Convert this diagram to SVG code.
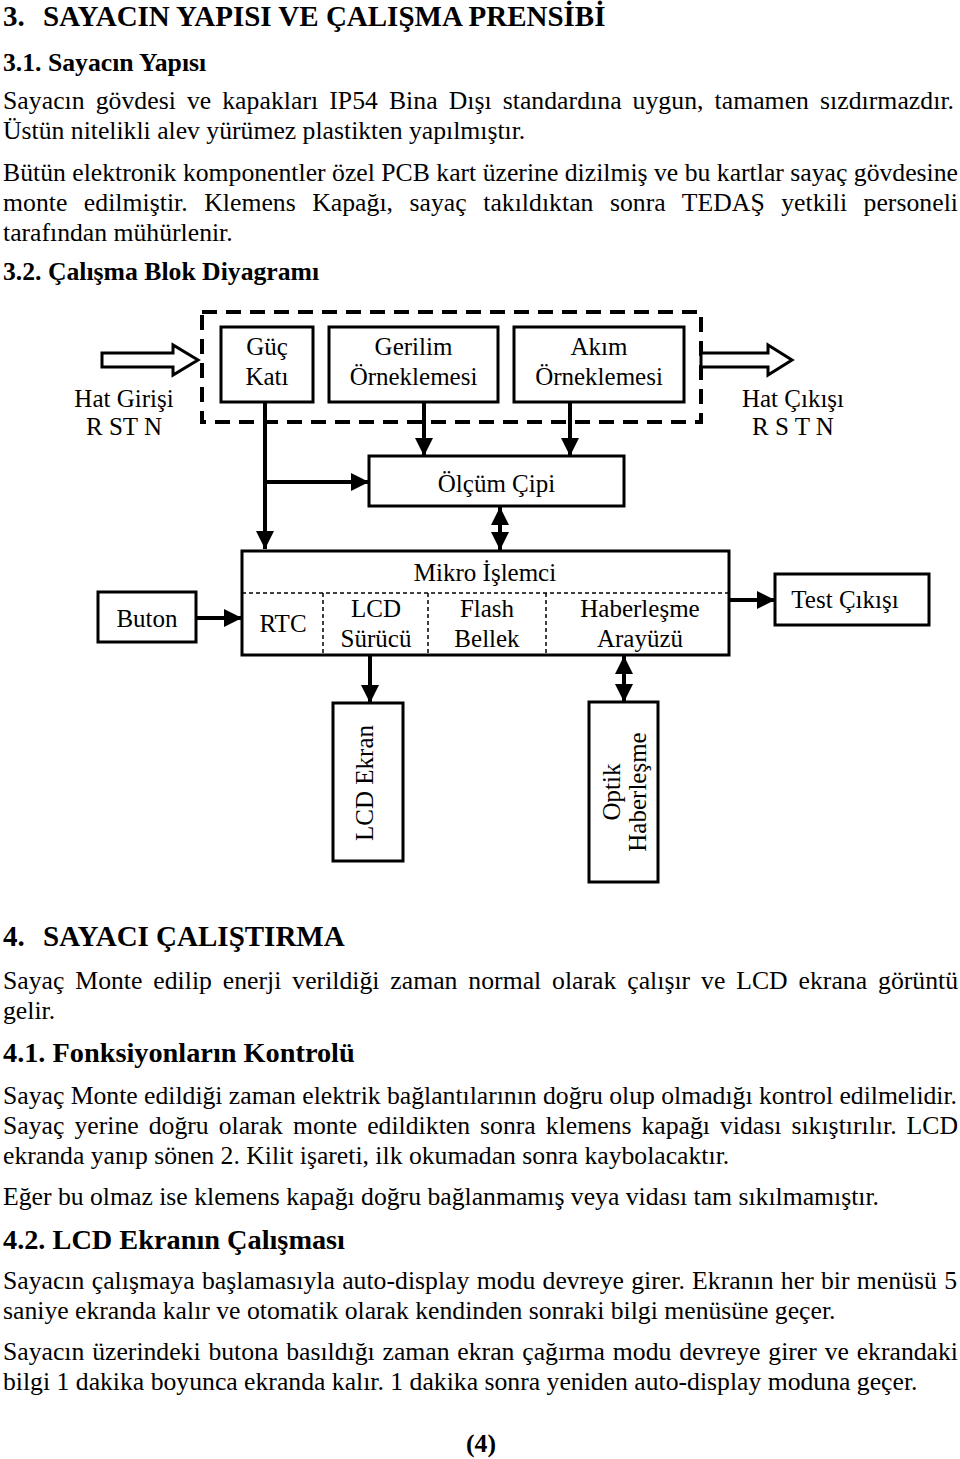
<svg xmlns="http://www.w3.org/2000/svg" width="960" height="1459" viewBox="0 0 960 1459">
<style>
text{font-family:"Liberation Serif","Times New Roman",serif;fill:#000}
.b{font-size:25.7px}
.h1{font-size:29px;font-weight:bold}
.h2{font-size:25.7px;font-weight:bold}
.h2b{font-size:28.3px;font-weight:bold}
.d{font-size:25px;text-anchor:middle}
.box{fill:#fff;stroke:#000;stroke-width:3}
.ln{fill:none;stroke:#000;stroke-width:4}
.sep{fill:none;stroke:#000;stroke-width:1.5;stroke-dasharray:4 3}
</style>
<defs>
<marker id="ah" markerUnits="userSpaceOnUse" markerWidth="18" markerHeight="18" refX="18" refY="9" orient="auto-start-reverse" viewBox="0 0 18 18"><path d="M0,0 L18,9 L0,18 z" fill="#000"/></marker>
</defs>
<rect width="960" height="1459" fill="#fff"/>
<g id="text-top">
<text class="h1" x="3" y="26">3.</text>
<text class="h1" x="43" y="26">SAYACIN YAPISI VE ÇALIŞMA PRENSİBİ</text>
<text class="h2" x="3" y="71">3.1. Sayacın Yapısı</text>
<text class="b" x="3" y="109" word-spacing="4.5" textLength="951" lengthAdjust="spacing">Sayacın gövdesi ve kapakları IP54 Bina Dışı standardına uygun, tamamen sızdırmazdır.</text>
<text class="b" x="3" y="139">Üstün nitelikli alev yürümez plastikten yapılmıştır.</text>
<text class="b" x="3" y="181" textLength="955" lengthAdjust="spacing">Bütün elektronik komponentler özel PCB kart üzerine dizilmiş ve bu kartlar sayaç gövdesine</text>
<text class="b" x="3" y="211" word-spacing="10" textLength="955" lengthAdjust="spacing">monte edilmiştir. Klemens Kapağı, sayaç takıldıktan sonra TEDAŞ yetkili personeli</text>
<text class="b" x="3" y="241">tarafından mühürlenir.</text>
<text class="h2" x="3" y="280">3.2. Çalışma Blok Diyagramı</text>
</g>
<g id="connectors">
<rect x="202" y="312" width="499" height="110" fill="none" stroke="#000" stroke-width="4" stroke-dasharray="15 9"/>
<polygon points="102,353 173,353 173,345 198,360 173,375 173,367 102,367" fill="#fff" stroke="#000" stroke-width="3"/>
<polygon points="701,353 768,353 768,345 792,360 768,375 768,367 701,367" fill="#fff" stroke="#000" stroke-width="3"/>
<path class="ln" d="M265,402 V549" marker-end="url(#ah)"/>
<path class="ln" d="M265,482 H369" marker-end="url(#ah)"/>
<path class="ln" d="M424,402 V456" marker-end="url(#ah)"/>
<path class="ln" d="M570,402 V456" marker-end="url(#ah)"/>
<path class="ln" d="M500,507 V550" marker-start="url(#ah)" marker-end="url(#ah)"/>
<path class="ln" d="M196,618 H242" marker-end="url(#ah)"/>
<path class="ln" d="M729,600 H775" marker-end="url(#ah)"/>
<path class="ln" d="M370,655 V703" marker-end="url(#ah)"/>
<path class="ln" d="M624,656 V702" marker-start="url(#ah)" marker-end="url(#ah)"/>
</g>
<g id="hat-girisi">
<text class="d" x="124" y="407">Hat Girişi</text>
<text class="d" x="124" y="435">R ST N</text>
</g>
<g id="hat-cikisi">
<text class="d" x="793" y="407">Hat Çıkışı</text>
<text class="d" x="793" y="435">R S T N</text>
</g>
<g id="guc-kati">
<rect class="box" x="221" y="327" width="92" height="75"/>
<text class="d" x="267" y="355">Güç</text>
<text class="d" x="267" y="385">Katı</text>
</g>
<g id="gerilim">
<rect class="box" x="329" y="327" width="169" height="75"/>
<text class="d" x="413.5" y="355">Gerilim</text>
<text class="d" x="413.5" y="385">Örneklemesi</text>
</g>
<g id="akim">
<rect class="box" x="514" y="327" width="170" height="75"/>
<text class="d" x="599" y="355">Akım</text>
<text class="d" x="599" y="385">Örneklemesi</text>
</g>
<g id="olcum-cipi">
<rect class="box" x="369" y="456" width="255" height="50"/>
<text class="d" x="496.5" y="492">Ölçüm Çipi</text>
</g>
<g id="mikro-islemci">
<rect class="box" x="242" y="551" width="487" height="104"/>
<path class="sep" d="M242,593 H729 M323,593 V655 M428,593 V655 M546,593 V655"/>
<text class="d" x="485" y="581">Mikro İşlemci</text>
<text class="d" x="283" y="632">RTC</text>
<text class="d" x="376" y="617">LCD</text>
<text class="d" x="376" y="647">Sürücü</text>
<text class="d" x="487" y="617">Flash</text>
<text class="d" x="487" y="647">Bellek</text>
<text class="d" x="640" y="617">Haberleşme</text>
<text class="d" x="640" y="647">Arayüzü</text>
</g>
<g id="buton">
<rect class="box" x="98" y="592" width="98" height="50"/>
<text class="d" x="147" y="627">Buton</text>
</g>
<g id="test-cikisi">
<rect class="box" x="775" y="574" width="154" height="51"/>
<text class="d" x="845" y="608">Test Çıkışı</text>
</g>
<g id="lcd-ekran">
<rect class="box" x="333" y="703" width="70" height="158"/>
<text class="d" transform="translate(373,783) rotate(-90)">LCD Ekran</text>
</g>
<g id="optik">
<rect class="box" x="589" y="702" width="69" height="180"/>
<text class="d" transform="translate(620,792) rotate(-90)">Optik</text>
<text class="d" transform="translate(646,792) rotate(-90)">Haberleşme</text>
</g>
<g id="text-bottom">
<text class="h1" x="3" y="946">4.</text>
<text class="h1" x="43" y="946">SAYACI ÇALIŞTIRMA</text>
<text class="b" x="3" y="989" word-spacing="4.5" textLength="955" lengthAdjust="spacing">Sayaç Monte edilip enerji verildiği zaman normal olarak çalışır ve LCD ekrana görüntü</text>
<text class="b" x="3" y="1019">gelir.</text>
<text class="h2b" x="3" y="1062">4.1. Fonksiyonların Kontrolü</text>
<text class="b" x="3" y="1104" textLength="954" lengthAdjust="spacing">Sayaç Monte edildiği zaman elektrik bağlantılarının doğru olup olmadığı kontrol edilmelidir.</text>
<text class="b" x="3" y="1134" word-spacing="3.5" textLength="955" lengthAdjust="spacing">Sayaç yerine doğru olarak monte edildikten sonra klemens kapağı vidası sıkıştırılır. LCD</text>
<text class="b" x="3" y="1164">ekranda yanıp sönen 2. Kilit işareti, ilk okumadan sonra kaybolacaktır.</text>
<text class="b" x="3" y="1205">Eğer bu olmaz ise klemens kapağı doğru bağlanmamış veya vidası tam sıkılmamıştır.</text>
<text class="h2b" x="3" y="1249">4.2. LCD Ekranın Çalışması</text>
<text class="b" x="3" y="1289" word-spacing="0.8" textLength="954" lengthAdjust="spacing">Sayacın çalışmaya başlamasıyla auto-display modu devreye girer. Ekranın her bir menüsü 5</text>
<text class="b" x="3" y="1319">saniye ekranda kalır ve otomatik olarak kendinden sonraki bilgi menüsüne geçer.</text>
<text class="b" x="3" y="1360" word-spacing="1.4" textLength="955" lengthAdjust="spacing">Sayacın üzerindeki butona basıldığı zaman ekran çağırma modu devreye girer ve ekrandaki</text>
<text class="b" x="3" y="1390">bilgi 1 dakika boyunca ekranda kalır. 1 dakika sonra yeniden auto-display moduna geçer.</text>
<text class="h2" x="481" y="1452" text-anchor="middle">(4)</text>
</g>
</svg>
